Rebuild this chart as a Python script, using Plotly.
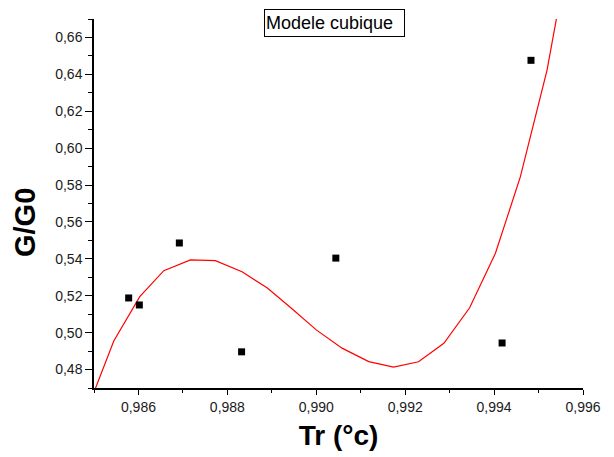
import plotly.graph_objects as go

# Experimental points
tr_points = [0.98578, 0.98602, 0.98692, 0.98832, 0.99044, 0.99418, 0.99483]
g_points = [0.5188, 0.5150, 0.5486, 0.4896, 0.5404, 0.4944, 0.6476]

# Cubic model curve (vertices)
tr_fit = [0.98487, 0.985445, 0.98603, 0.98657, 0.98717, 0.98773, 0.98833, 0.98890,
          0.98946, 0.99000, 0.99058, 0.99118, 0.99174, 0.99230, 0.99287, 0.99345,
          0.99403, 0.99459, 0.99519, 0.99577]
g_fit = [0.4597, 0.4955, 0.5195, 0.5336, 0.5394, 0.5390, 0.5330, 0.5242,
         0.5128, 0.5015, 0.4916, 0.4843, 0.4813, 0.4842, 0.4942, 0.5135,
         0.5430, 0.5844, 0.6422, 0.7185]

x_ticks = [0.986, 0.988, 0.990, 0.992, 0.994, 0.996]
y_ticks = [0.48, 0.50, 0.52, 0.54, 0.56, 0.58, 0.60, 0.62, 0.64, 0.66]

FONT = "Liberation Sans, Arial, sans-serif"

L, R, T, B, W, H = 94, 31, 19, 69, 614, 457
PW, PH = W - L - R, H - T - B

fig = go.Figure()
fig.add_trace(go.Scatter(x=tr_fit, y=g_fit, mode="lines",
                         line=dict(color="#ff0000", width=1.2), showlegend=False))
fig.add_trace(go.Scatter(x=tr_points, y=g_points, mode="markers",
                         marker=dict(symbol="square", size=7, color="black"),
                         showlegend=False, cliponaxis=False))

fig.update_layout(
    width=W, height=H,
    margin=dict(l=L, r=R, t=T, b=B, pad=0),
    paper_bgcolor="white", plot_bgcolor="white",
    separators=", ",
    font=dict(family=FONT, color="#1a1a1a", size=14),
    xaxis=dict(range=[0.985, 0.996], tickvals=x_ticks, tickformat=".3f",
               ticks="outside", ticklen=5, tickwidth=1.2, tickcolor="black",
               showline=True, linecolor="black", linewidth=1.5, showgrid=False,
               zeroline=False, tickfont=dict(size=14),
               minor=dict(ticks="outside", ticklen=3, tickwidth=1.2, tickcolor="black", dtick=0.001,
                          tick0=0.985, showgrid=False),
               title=dict(text="<b>Tr (°c)</b>", font=dict(size=28, color="black"), standoff=12)),
    yaxis=dict(range=[0.47, 0.67], tickvals=y_ticks, tickformat=".2f",
               ticks="outside", ticklen=7, tickwidth=1.2, tickcolor="black",
               showline=True, linecolor="black", linewidth=1.5, showgrid=False,
               zeroline=False, tickfont=dict(size=14),
               minor=dict(ticks="outside", ticklen=4, tickwidth=1.2, tickcolor="black", dtick=0.01,
                          tick0=0.47, showgrid=False)),
    annotations=[
        dict(text="Modele cubique", xref="paper", yref="paper",
             x=(264 - L) / PW, y=1 + (T - 9) / PH,
             xanchor="left", yanchor="top", showarrow=False,
             font=dict(size=18, family=FONT, color="black"),
             align="left", width=137, height=24,
             bordercolor="black", borderwidth=1, borderpad=1, bgcolor="white"),
        dict(text="<b>G/G0</b>", xref="paper", yref="paper",
             x=(25 - L) / PW, y=(H - B - 223) / PH, xanchor="center", yanchor="middle",
             textangle=-90, showarrow=False,
             font=dict(size=29, family=FONT, color="black")),
    ],
)

fig.write_html("out.html")
